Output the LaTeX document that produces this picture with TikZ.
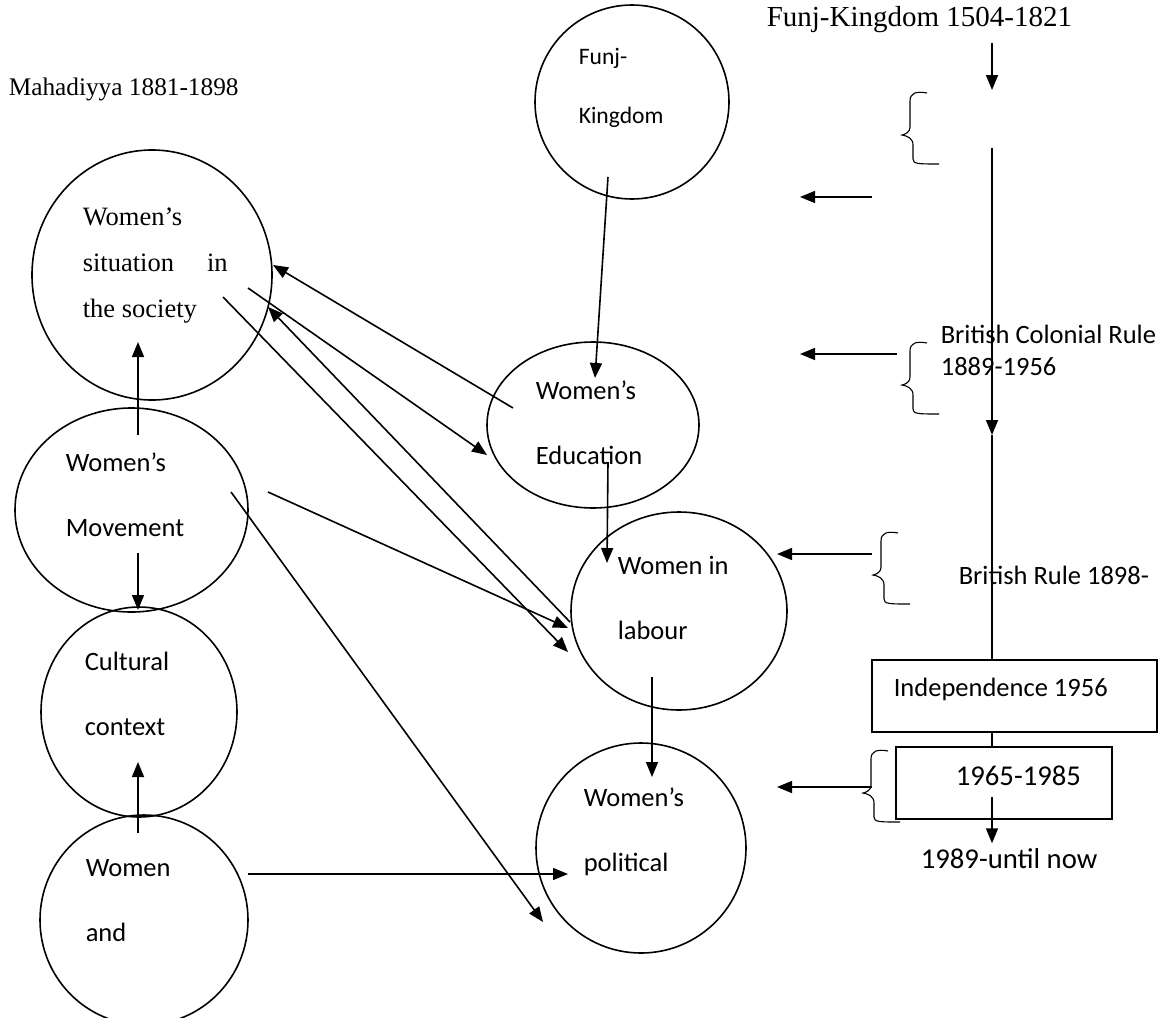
\documentclass[tikz,border=0pt]{standalone}
\usepackage{fontspec}
\setmainfont{Liberation Serif}
\newfontfamily\carlito[Ligatures=TeX]{Carlito}
\usetikzlibrary{arrows.meta,shapes.geometric}

\tikzset{
  bubble/.style={draw, ellipse, inner sep=0pt},
  box/.style={draw, rectangle, inner sep=0pt},
  serif/.style={font=\fontsize{26.5}{46}\selectfont, align=left, inner sep=0pt, anchor=west},
  sans/.style={font=\carlito\fontsize{26.5}{65}\selectfont, align=left, inner sep=0pt, anchor=west},
  era/.style={font=\carlito\fontsize{26.5}{32}\selectfont, align=left, inner sep=0pt, anchor=base west},
  bigera/.style={font=\carlito\fontsize{28.7}{34}\selectfont, inner sep=0pt, anchor=base west},
  wbrace/.pic={\draw[line width=1.1pt] (25,-42) .. controls (14,-44) and (8,-42) .. (8,-34) -- (8,-8)
     .. controls (8,-3) and (4,-1) .. (0,0) .. controls (5,1) and (11,3) .. (11,10) -- (11,24)
     .. controls (11,29) and (16,29) .. (37,29);},
}

\begin{document}
\begin{tikzpicture}[x=1pt, y=-1pt, line width=1.6pt, >={Triangle[length=15pt,width=12pt]}]
\useasboundingbox (0,0) rectangle (1158,1017);

% headings
\node[font=\fontsize{29}{34}\selectfont, inner sep=0pt, anchor=base west] (funjtl) at (766,27) {Funj-Kingdom 1504-1821};
\node[font=\fontsize{25.3}{30}\selectfont, inner sep=0pt, anchor=base west] (maha) at (8,95) {Mahadiyya 1881-1898};

% circles
\node[bubble, minimum width=194pt, minimum height=194pt] (funj) at (632,102) {};
\node[bubble, minimum width=240pt, minimum height=250pt] (sit) at (152,275) {};
\node[bubble, minimum width=212pt, minimum height=166pt] (edu) at (593,425) {};
\node[bubble, minimum width=216pt, minimum height=198pt] (lab) at (679,611) {};
\node[bubble, minimum width=210pt, minimum height=210pt] (pol) at (641,848) {};
\node[bubble, minimum width=233pt, minimum height=204pt] (mov) at (131.5,510) {};
\node[bubble, minimum width=196pt, minimum height=210pt] (cul) at (139,712) {};
\node[bubble, minimum width=208pt, minimum height=210pt] (wand) at (144,920) {};

% circle texts
\node[sans, font=\carlito\fontsize{23.6}{59}\selectfont] (funj-t) at (578,87.5) {Funj-\\Kingdom};
\node[serif] (sit-t) at (82,266) {Women's\\situation\hspace{33pt}in\\the society};
\node[sans] (edu-t) at (535,422.5) {Women's\\Education};
\node[sans] (lab-t) at (617,597.5) {Women in\\labour};
\node[sans] (pol-t) at (583,831.5) {Women's\\political};
\node[sans] (mov-t) at (65,494.5) {Women's\\Movement};
\node[sans] (cul-t) at (84,693.5) {Cultural\\context};
\node[sans] (wand-t) at (85,900.5) {Women\\and};

% links between circles
\draw[->] ([shift={(-80,-17)}]edu.center) -- ([shift={(121,-10)}]sit.center);
\draw[->] ([shift={(96,13)}]sit.center) -- ([shift={(-106,30)}]edu.center);
\draw[->] ([shift={(-109,11)}]lab.center) -- ([shift={(116,32)}]sit.center);
\draw[->] ([shift={(71,22)}]sit.center) -- ([shift={(-111,41)}]lab.center);
\draw[->] ([shift={(136.5,-18)}]mov.center) -- ([shift={(-111,17)}]lab.center);
\draw[->] ([shift={(99.5,-18)}]mov.center) -- ([shift={(-98,74)}]pol.center);
\draw[->] ([shift={(104,-46)}]wand.center) -- ([shift={(-73,26)}]pol.center);
\draw[->] ([shift={(-24,75)}]funj.center) -- ([shift={(2,-47)}]edu.center);
\draw[->] ([shift={(15,37)}]edu.center) -- ([shift={(-72,-48)}]lab.center);
\draw[->] ([shift={(-27,66)}]lab.center) -- ([shift={(11,-71)}]pol.center);
\draw[->] ([shift={(6.5,-75)}]mov.center) -- ([shift={(-14,67)}]sit.center);
\draw[->] ([shift={(6.5,43)}]mov.center) -- ([shift={(-1,-102)}]cul.center);
\draw[->] ([shift={(-6,-87)}]wand.center) -- ([shift={(-1,50)}]cul.center);

% timeline
\node[box, minimum width=285pt, minimum height=72pt] (indep) at (1014.5,696) {};
\node[box, minimum width=216pt, minimum height=72pt] (yrs) at (1004,783) {};
\node[era] (col-t) at (940,375) {British Colonial Rule\\1889-1956};
\node[era] (brit-t) at (958,584) {British Rule 1898-};
\node[era] (indep-t) at (893,696) {Independence 1956};
\node[bigera] (yrs-t) at (955,785) {1965-1985};
\node[bigera] (now) at (920,868) {1989-until now};

\coordinate (t0) at (992,43);
\coordinate (t1) at (992,90);
\coordinate (t2) at (992,148);
\coordinate (t3) at (992,435);
\coordinate (t4) at (992,797);
\draw[->] (t0) -- (t1);
\draw[->] (t2) -- (t3);
\draw (t3) -- (t3 |- indep.north);
\draw (t3 |- indep.south) -- (t3 |- yrs.north);
\draw[->] (t4) -- ([yshift=4pt]t4 |- now.north);

% braces
\pic at (902,135) {wbrace};
\pic at (902,385) {wbrace};
\pic at (873,575) {wbrace};
\pic at (863,793) {wbrace};

% arrows to the left
\coordinate (l1) at (872,197);
\coordinate (l2) at (897,354);
\coordinate (l3) at (872,554);
\coordinate (l4) at (872,787);
\draw[->] (l1) -- ++(-72,0);
\draw[->] (l2) -- ++(-97,0);
\draw[->] (l3) -- ++(-95,0);
\draw[->] (l4) -- ++(-95,0);
\end{tikzpicture}
\end{document}
